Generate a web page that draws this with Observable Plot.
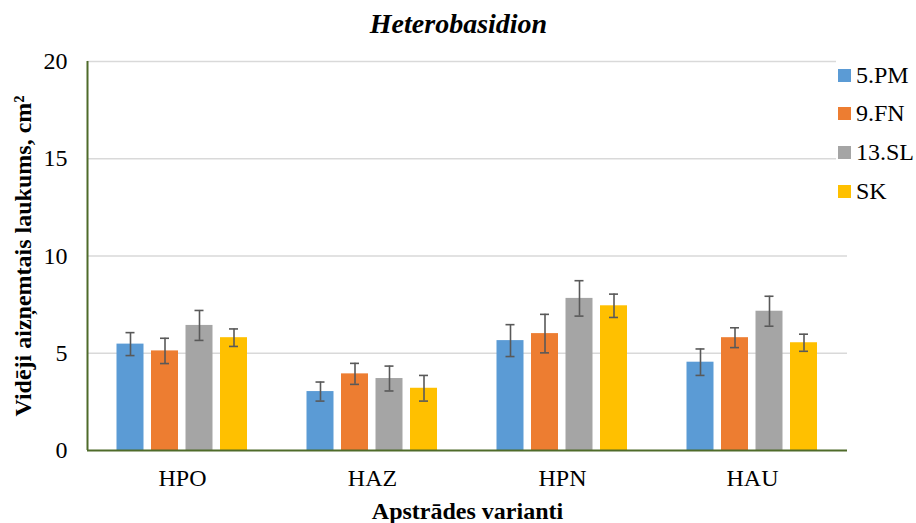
<!DOCTYPE html>
<html><head><meta charset="utf-8">
<script src="https://cdn.jsdelivr.net/npm/d3@7"></script>
<script src="https://cdn.jsdelivr.net/npm/@observablehq/plot@0.6"></script>
<style>
body{margin:0;background:#fff;}
#wrap{position:relative;width:916px;height:523px;overflow:hidden;}
#legend{position:absolute;left:836px;top:55px;width:80px;height:152px;background:#fff;font-family:"Liberation Serif",serif;font-size:24px;color:#000;}
.item{position:absolute;left:0;height:30px;width:80px;}
.sw{position:absolute;left:2px;top:9px;width:13px;height:13px;}
.lab{position:absolute;left:20px;top:0;line-height:30px;white-space:nowrap;}
</style></head><body><div id="wrap"></div>
<script>
const variants = ["HPO", "HAZ", "HPN", "HAU"];
const series = ["5.PM", "9.FN", "13.SL", "SK"];
const colors = ["#5B9BD5", "#ED7D31", "#A5A5A5", "#FFC000"];
const yTicks = [0, 5, 10, 15, 20];
// means per series, in order of variants
const pm5 = [5.47, 3.03, 5.65, 4.54];
const fn9 = [5.12, 3.94, 6.01, 5.80];
const sl13 = [6.43, 3.70, 7.82, 7.16];
const sk = [5.80, 3.20, 7.44, 5.54];
// error (±) per series
const pm5Err = [0.59, 0.49, 0.82, 0.68];
const fn9Err = [0.65, 0.54, 0.99, 0.51];
const sl13Err = [0.77, 0.64, 0.91, 0.77];
const skErr = [0.45, 0.66, 0.60, 0.44];

const means = [pm5, fn9, sl13, sk];
const errs = [pm5Err, fn9Err, sl13Err, skErr];
const rows = series.map((s, i) => variants.map((v, j) => ({
  series: s, variant: v, value: means[i][j], lo: means[i][j] - errs[i][j], hi: means[i][j] + errs[i][j]
})));

const W = 916, H = 523, mL = 87, mR = 69, mT = 61, mB = 73;
const band = (W - mL - mR) / variants.length; // 190
const barW = 27, step = 34.5, first = 29.5, cap = 4.5;

const marks = [
  Plot.ruleY([5, 10, 15, 20], {stroke: "#d9d9d9", strokeWidth: 1.5}),
];
series.forEach((s, i) => {
  const left = first + i * step;
  marks.push(Plot.barY(rows[i], {x: "variant", y: "value", fill: "series",
    insetLeft: left, insetRight: band - left - barW}));
});
series.forEach((s, i) => {
  const left = first + i * step;
  const center = left + barW / 2;
  marks.push(Plot.ruleX(rows[i], {x: "variant", y1: "lo", y2: "hi", dx: center - band / 2, stroke: "#595959", strokeWidth: 1.6}));
  marks.push(Plot.tickY(rows[i], {x: "variant", y: "hi", insetLeft: center - cap, insetRight: band - center - cap, stroke: "#595959", strokeWidth: 1.6}));
  marks.push(Plot.tickY(rows[i], {x: "variant", y: "lo", insetLeft: center - cap, insetRight: band - center - cap, stroke: "#595959", strokeWidth: 1.6}));
});
marks.push(Plot.ruleY([0], {stroke: "#4F6B2A", strokeWidth: 2}));
marks.push(Plot.ruleX([variants[0]], {dx: -band / 2, stroke: "#4F6B2A", strokeWidth: 2}));
marks.push(Plot.text(["Heterobasidion"], {frameAnchor: "top", dx: -9, dy: -37, lineAnchor: "middle",
  fontSize: 28, fontWeight: "bold", fontStyle: "italic", fill: "#000"}));
marks.push(Plot.text(["Vidēji aizņemtais laukums, cm²"], {frameAnchor: "left", textAnchor: "middle", dx: -64, rotate: -90, lineAnchor: "middle",
  fontSize: 24, fontWeight: "bold", fill: "#000"}));
marks.push(Plot.text(["Apstrādes varianti"], {frameAnchor: "bottom", dy: 61, lineAnchor: "middle",
  fontSize: 24, fontWeight: "bold", fill: "#000"}));

const chart = Plot.plot({
  width: W, height: H,
  marginLeft: mL, marginRight: mR, marginTop: mT, marginBottom: mB,
  style: {fontFamily: "'Liberation Serif', serif", fontSize: "24px", color: "#000", background: "#fff"},
  x: {domain: variants, padding: 0, tickSize: 0, tickPadding: 18, label: null},
  y: {domain: [0, 20], ticks: yTicks, tickSize: 0, tickPadding: 20, label: null},
  color: {domain: series, range: colors},
  marks
});
const wrap = document.getElementById("wrap");
wrap.appendChild(chart);

const legend = document.createElement("div");
legend.id = "legend";
const centers = [20, 58, 97, 136];
series.forEach((s, i) => {
  const it = document.createElement("div");
  it.className = "item";
  it.style.top = (centers[i] - 15) + "px";
  const sw = document.createElement("span");
  sw.className = "sw"; sw.style.background = colors[i];
  const lab = document.createElement("span");
  lab.className = "lab"; lab.textContent = s;
  it.appendChild(sw); it.appendChild(lab);
  legend.appendChild(it);
});
wrap.appendChild(legend);
</script>
</body></html>
